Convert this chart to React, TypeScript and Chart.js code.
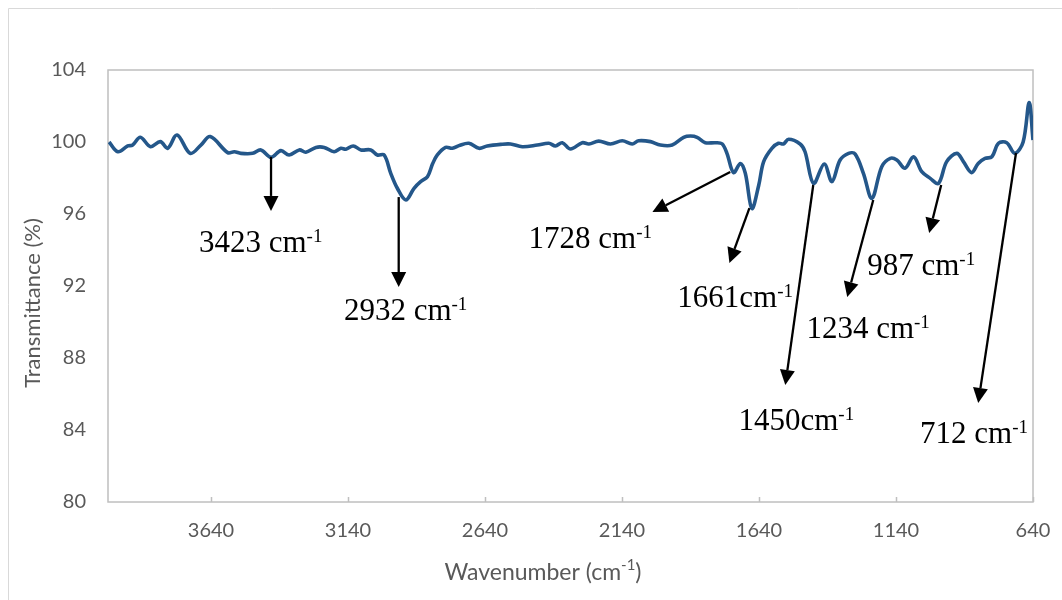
import React, { useEffect, useRef } from "react";
import { Chart, registerables } from "chart.js";

Chart.register(...registerables);

// ---- Spectrum data (wavenumber cm-1, transmittance %) ----
const wavenumbers = [
  4012, 3980, 3944, 3926, 3898, 3861, 3825, 3798, 3764, 3716,
  3677, 3643, 3579, 3555, 3531, 3488, 3458, 3421, 3385, 3355,
  3318, 3294, 3257, 3227, 3191, 3166, 3148, 3121, 3093, 3057,
  3033, 3008, 2984, 2960, 2929, 2899, 2875, 2850, 2831, 2814,
  2784, 2759, 2735, 2699, 2662, 2632, 2583, 2547, 2504, 2449,
  2407, 2383, 2358, 2328, 2285, 2261, 2225, 2182, 2139,
  2103, 2079, 2036, 2000, 1957, 1915, 1890, 1866, 1836, 1799,
  1775, 1757, 1733, 1708, 1690, 1666, 1641, 1623, 1593, 1569,
  1551, 1532, 1490, 1472, 1441, 1402, 1374, 1344, 1313, 1289,
  1259, 1228, 1192, 1161, 1137, 1107, 1076, 1046, 1015, 985,
  955, 918, 894, 864, 840, 815, 790, 766, 736, 706,
  676, 654, 640,
];

const transmittance = [
  100.0, 99.46, 99.78, 99.83, 100.26, 99.74, 100.02, 99.65, 100.39, 99.37,
  99.83, 100.3, 99.41, 99.46, 99.37, 99.37, 99.56, 99.15, 99.52, 99.28,
  99.56, 99.43, 99.7, 99.7, 99.46, 99.65, 99.6, 99.78, 99.56, 99.56,
  99.28, 99.28, 98.26, 97.43, 96.78, 97.43, 97.8, 98.07, 98.8, 99.28,
  99.7, 99.65, 99.8, 99.93, 99.65, 99.78, 99.87, 99.89, 99.74, 99.83,
  99.93, 99.78, 99.96, 99.61, 99.96, 99.89, 100.05, 99.89, 100.07,
  99.89, 100.07, 100.02, 99.83, 99.83, 100.26, 100.33, 100.26, 99.96, 99.96,
  99.9, 99.37, 98.3, 98.8, 98.26, 96.31, 97.6, 98.91, 99.65, 99.93,
  99.89, 100.15, 99.89, 99.46, 97.7, 98.78, 97.8, 99.0, 99.37, 99.33,
  98.26, 96.87, 98.63, 99.09, 99.0, 98.54, 99.18, 98.35, 97.98, 97.7,
  98.91, 99.37, 98.91, 98.3, 98.81, 99.09, 99.18, 99.93, 99.96, 99.37,
  100.0, 102.19, 100.11,
];

// ---- Axes ----
const xTickValues = [640, 1140, 1640, 2140, 2640, 3140, 3640];
const xMin = 640;
const xMax = 4016;
const yMin = 80;
const yMax = 104;
const yStep = 4;
const xTitleMain = "Wavenumber (cm";
const xTitleSup = "-1";
const xTitleEnd = ")";
const yTitle = "Transmittance (%)";

// ---- Peak annotations (data coordinates) ----
const peakText = ["3423 cm", "2932 cm", "1728 cm", "1661cm", "1450cm", "1234 cm", "987 cm", "712 cm"];
const peakSup = ["-1", "-1", "-1", "-1", "-1", "-1", "-1", "-1"];
const arrowFromWn = [3421, 2955, 1745, 1675, 1442, 1223, 975, 702];
const arrowFromT = [99.17, 96.94, 98.33, 96.33, 97.61, 96.78, 97.61, 99.39];
const arrowToWn = [3421, 2955, 2029, 1748, 1544, 1318, 1019, 840];
const arrowToT = [96.17, 91.94, 96.11, 93.28, 86.5, 91.39, 94.94, 85.5];
const textWn = [3684, 3155, 2481, 1938, 1715, 1467, 1245, 1052];
const textT = [93.89, 90.11, 94.11, 90.83, 84.0, 89.11, 92.61, 83.28];

const LINE_COLOR = "#24578A";
const AXIS_TEXT = "#595959";
const SANS = "Lato, 'Open Sans', sans-serif";
const SERIF = "'Liberation Serif', 'DejaVu Serif', serif";

const decorPlugin = {
  id: "decor",
  beforeDatasetsDraw(chart: any) {
    const { ctx, chartArea } = chart;
    ctx.save();
    // chart-area outer border
    ctx.strokeStyle = "#D9D9D9";
    ctx.lineWidth = 1;
    ctx.beginPath();
    ctx.moveTo(8.5, 600);
    ctx.lineTo(8.5, 8.5);
    ctx.lineTo(1062, 8.5);
    ctx.stroke();
    // plot area border
    ctx.strokeStyle = "#BFBFBF";
    ctx.lineWidth = 1.5;
    ctx.strokeRect(chartArea.left, chartArea.top, chartArea.right - chartArea.left, chartArea.bottom - chartArea.top);
    // inward x tick marks
    const xs = chart.scales.x;
    ctx.beginPath();
    for (const v of xTickValues) {
      const px = Math.round(xs.getPixelForValue(v)) + 0.5;
      ctx.moveTo(px, chartArea.bottom);
      ctx.lineTo(px, chartArea.bottom - 5);
    }
    ctx.stroke();
    ctx.restore();
  },
  afterDraw(chart: any) {
    const { ctx, chartArea } = chart;
    const xs = chart.scales.x;
    const ys = chart.scales.y;
    ctx.save();
    // axis titles
    ctx.fillStyle = AXIS_TEXT;
    ctx.font = `22px ${SANS}`;
    ctx.textBaseline = "middle";
    ctx.textAlign = "center";
    ctx.save();
    ctx.translate(33, 303);
    ctx.rotate(-Math.PI / 2);
    ctx.fillText(yTitle, 0, 0);
    ctx.restore();

    ctx.textAlign = "left";
    ctx.font = `23px ${SANS}`;
    const w1 = ctx.measureText(xTitleMain).width;
    ctx.font = `15px ${SANS}`;
    const w2 = ctx.measureText(xTitleSup).width;
    ctx.font = `23px ${SANS}`;
    const w3 = ctx.measureText(xTitleEnd).width;
    const total = w1 + w2 + w3;
    const cx = 543;
    const ty = 573;
    const sx = cx - total / 2;
    ctx.fillText(xTitleMain, sx, ty);
    ctx.font = `15px ${SANS}`;
    ctx.fillText(xTitleSup, sx + w1, ty - 8);
    ctx.font = `23px ${SANS}`;
    ctx.fillText(xTitleEnd, sx + w1 + w2, ty);

    // peak arrows and labels
    ctx.fillStyle = "#000";
    ctx.strokeStyle = "#000";
    for (let i = 0; i < peakText.length; i++) {
      const x1 = xs.getPixelForValue(arrowFromWn[i]);
      const y1 = ys.getPixelForValue(arrowFromT[i]);
      const x2 = xs.getPixelForValue(arrowToWn[i]);
      const y2 = ys.getPixelForValue(arrowToT[i]);
      const ang = Math.atan2(y2 - y1, x2 - x1);
      const headLen = 15;
      const headW = 7.5;
      const c = Math.cos(ang);
      const s = Math.sin(ang);
      const bx = x2 - headLen * c;
      const by = y2 - headLen * s;
      ctx.lineWidth = 2.3;
      ctx.beginPath();
      ctx.moveTo(x1, y1);
      ctx.lineTo(bx, by);
      ctx.stroke();
      ctx.beginPath();
      ctx.moveTo(x2, y2);
      ctx.lineTo(bx + headW * s, by - headW * c);
      ctx.lineTo(bx - headW * s, by + headW * c);
      ctx.closePath();
      ctx.fill();

      const tx = xs.getPixelForValue(textWn[i]);
      const tyy = ys.getPixelForValue(textT[i]);
      ctx.textAlign = "left";
      ctx.textBaseline = "alphabetic";
      ctx.font = `31px ${SERIF}`;
      ctx.fillText(peakText[i], tx, tyy);
      const tw = ctx.measureText(peakText[i]).width;
      ctx.font = `19px ${SERIF}`;
      ctx.fillText(peakSup[i], tx + tw, tyy - 10);
    }
    ctx.restore();
  },
};

export default function App() {
  const canvasRef = useRef<HTMLCanvasElement | null>(null);

  useEffect(() => {
    document.body.style.overflow = "hidden";
    const canvas = canvasRef.current;
    if (!canvas) return;
    const points = wavenumbers.map((w, i) => ({ x: w, y: transmittance[i] }));
    const chart = new Chart(canvas, {
      type: "scatter",
      data: {
        datasets: [
          {
            data: points,
            showLine: true,
            borderColor: LINE_COLOR,
            backgroundColor: LINE_COLOR,
            borderWidth: 3.6,
            pointRadius: 0,
            tension: 0.35,
            fill: false,
          } as any,
        ],
      },
      options: {
        animation: false,
        responsive: false,
        devicePixelRatio: 1,
        layout: { padding: { left: 0, top: 70, right: 29, bottom: 0 } },
        plugins: {
          legend: { display: false },
          tooltip: { enabled: false },
        },
        scales: {
          x: {
            type: "linear",
            reverse: true,
            min: xMin,
            max: xMax,
            afterBuildTicks: (scale: any) => {
              scale.ticks = xTickValues.map((v) => ({ value: v }));
            },
            afterFit: (scale: any) => {
              scale.height = 98;
            },
            grid: { display: false, drawTicks: false },
            border: { display: false },
            ticks: {
              autoSkip: false,
              maxRotation: 0,
              padding: 17,
              color: AXIS_TEXT,
              font: { family: SANS, size: 20 },
              callback: (v: any) => String(v),
            },
          },
          y: {
            min: yMin,
            max: yMax,
            afterFit: (scale: any) => {
              scale.width = 108;
            },
            grid: { display: false, drawTicks: false },
            border: { display: false },
            ticks: {
              stepSize: yStep,
              padding: 22,
              color: AXIS_TEXT,
              font: { family: SANS, size: 20 },
            },
          },
        },
      },
      plugins: [decorPlugin],
    });
    return () => chart.destroy();
  }, []);

  return (
    <div style={{ position: "fixed", left: 0, top: 0, width: 1062, height: 600, background: "#fff" }}>
      <canvas ref={canvasRef} width={1062} height={600} style={{ width: 1062, height: 600, display: "block" }} />
    </div>
  );
}
